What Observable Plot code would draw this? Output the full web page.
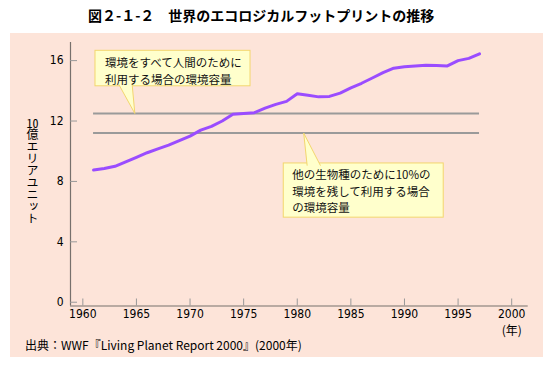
<!DOCTYPE html>
<html><head><meta charset="utf-8">
<script src="https://cdn.jsdelivr.net/npm/d3@7"></script>
<script src="https://cdn.jsdelivr.net/npm/@observablehq/plot@0.6"></script>
<style>
body{margin:0;background:#fff;font-family:"Noto Sans CJK JP",sans-serif;color:#000;}
#wrap{position:relative;width:553px;height:367px;overflow:hidden;}
#title{position:absolute;left:88px;top:6px;font-size:14px;line-height:18px;font-weight:bold;white-space:nowrap;}
#panel{position:absolute;left:10px;top:33px;width:533px;height:324px;background:#fde4d9;}
#chart{position:absolute;left:0;top:0;}
#ylabel{position:absolute;left:16px;top:83px;width:12px;font-size:12px;line-height:12px;writing-mode:vertical-rl;text-orientation:upright;white-space:nowrap;}
#ylabel .num{text-combine-upright:all;}
#caption{position:absolute;left:15px;top:304px;font-size:12px;line-height:16px;white-space:nowrap;}
</style>
</head><body>
<div id="wrap">
  <div id="title">図２-１-２　世界のエコロジカルフットプリントの推移</div>
  <div id="panel">
    <div id="chart"></div>
    <div id="ylabel"></div>
    <div id="caption">出典：WWF『Living Planet Report 2000』(2000年)</div>
  </div>
</div>
<script>
// data
const years = [1961,1962,1963,1964,1965,1966,1967,1968,1969,1970,1971,1972,1973,1974,1975,1976,1977,1978,1979,1980,1981,1982,1983,1984,1985,1986,1987,1988,1989,1990,1991,1992,1993,1994,1995,1996,1997];
const footprint = [8.75,8.85,9.0,9.3,9.6,9.9,10.15,10.4,10.7,11.0,11.4,11.65,12.0,12.45,12.5,12.55,12.85,13.1,13.3,13.8,13.7,13.6,13.63,13.85,14.2,14.5,14.85,15.2,15.5,15.6,15.65,15.7,15.67,15.65,16.0,16.15,16.45];
const capacityValues = [12.5, 11.2];
const xTicks = [1960,1965,1970,1975,1980,1985,1990,1995,2000];
const yTicks = [0,4,8,12,16];
const yLabelNum = "10";
const yLabelText = "億エリアユニット";
const xUnit = "(年)";
const calloutTexts = ["環境をすべて人間のために\n利用する場合の環境容量", "他の生物種のために10%の\n環境を残して利用する場合\nの環境容量"];
// callout anchors in data units: box extents, pointer tip and pointer base
const calloutBoxes = [
  {x1:1961.18, x2:1975.64, y1:14.3, y2:16.65},
  {x1:1978.74, x2:1993.66, y1:5.6, y2:9.19}
];
const calloutTips = [
  {x:1964.85, y:12.5, b1:1963.36, b2:1964.6, side:"bottom"},
  {x:1980.6, y:11.2, b1:1980.92, b2:1982.15, side:"top"}
];

const xDomain = [1958.85, 2001.54];
const yDomain = [-0.25, 17.2];
const numFont = '"Liberation Sans Narrow","DejaVu Sans Condensed","Noto Sans CJK JP",sans-serif';
const jpFont = '"Noto Sans CJK JP",sans-serif';

// vertical y label
const yl = document.getElementById("ylabel");
const numSpan = document.createElement("span");
numSpan.className = "num";
numSpan.textContent = yLabelNum;
yl.appendChild(numSpan);
yl.appendChild(document.createTextNode(yLabelText));

const pointerPts = [];
calloutTips.forEach((t, i) => {
  const b = calloutBoxes[i];
  const by = t.side === "bottom" ? b.y1 + 0.12 : b.y2 - 0.12;
  pointerPts.push({x:t.b1, y:by, k:i}, {x:t.x, y:t.y, k:i}, {x:t.b2, y:by, k:i});
});

const chart = Plot.plot({
  width: 533, height: 310,
  marginLeft: 60, marginRight: 15.3, marginTop: 9, marginBottom: 37.5,
  style: {background: "transparent", fontFamily: jpFont, fontSize: "12px", color: "#000", overflow: "visible"},
  x: {domain: xDomain},
  y: {domain: yDomain},
  marks: [
    // capacity lines
    Plot.ruleY(capacityValues, {x1: () => years[0], x2: () => years[years.length-1], stroke: "#9a9a9a", strokeWidth: 2}),
    // axes lines
    Plot.ruleX([xDomain[0]], {stroke: "#77706c", strokeWidth: 1.2}),
    Plot.ruleY([yDomain[0]], {stroke: "#77706c", strokeWidth: 1.2}),
    // y axis
    Plot.axisY({ticks: yTicks, tickSize: 0, tickPadding: 7, tickFormat: d => String(d), label: null, fontFamily: numFont, fontSize: 12}),
    Plot.axisY({ticks: yTicks, tickSize: 7, dx: 7, tickFormat: () => "", label: null, stroke: "#999"}),
    // x axis
    Plot.axisX({ticks: xTicks, tickSize: 0, tickPadding: 3, tickFormat: d => String(d), label: null, fontFamily: numFont, fontSize: 12}),
    Plot.axisX({ticks: xTicks, tickSize: 7, dy: -7, tickFormat: () => "", label: null, stroke: "#999"}),
    Plot.text([xUnit], {x: () => xTicks[xTicks.length-1], frameAnchor: "bottom", dy: 28.5, text: d => d, fontSize: 12, fontFamily: jpFont}),
    // footprint line
    Plot.line(years, {x: d => d, y: (d, i) => footprint[i], stroke: "#9a4cff", strokeWidth: 3, strokeLinejoin: "round", strokeLinecap: "round"}),
    // callouts
    Plot.rect(calloutBoxes, {x1: "x1", x2: "x2", y1: "y1", y2: "y2", fill: "#ffffcc", stroke: "#f3d66e", strokeWidth: 1}),
    Plot.line(pointerPts, {x: "x", y: "y", z: "k", fill: "#ffffcc", stroke: "#f3d66e", strokeWidth: 1, curve: "linear"}),
    Plot.text([calloutTexts[0]], {x: () => calloutBoxes[0].x1, y: () => calloutBoxes[0].y2, text: d => d, textAnchor: "start", lineAnchor: "top", dx: 9.5, dy: 4.5, lineHeight: 1.46, fontSize: 11.5, fontFamily: jpFont, fill: "#111"}),
    Plot.text([calloutTexts[1]], {x: () => calloutBoxes[1].x1, y: () => calloutBoxes[1].y2, text: d => d, textAnchor: "start", lineAnchor: "top", dx: 8.4, dy: 3.5, lineHeight: 1.46, fontSize: 11.5, fontFamily: jpFont, fill: "#111"})
  ]
});
document.getElementById("chart").appendChild(chart);
</script>
</body></html>
